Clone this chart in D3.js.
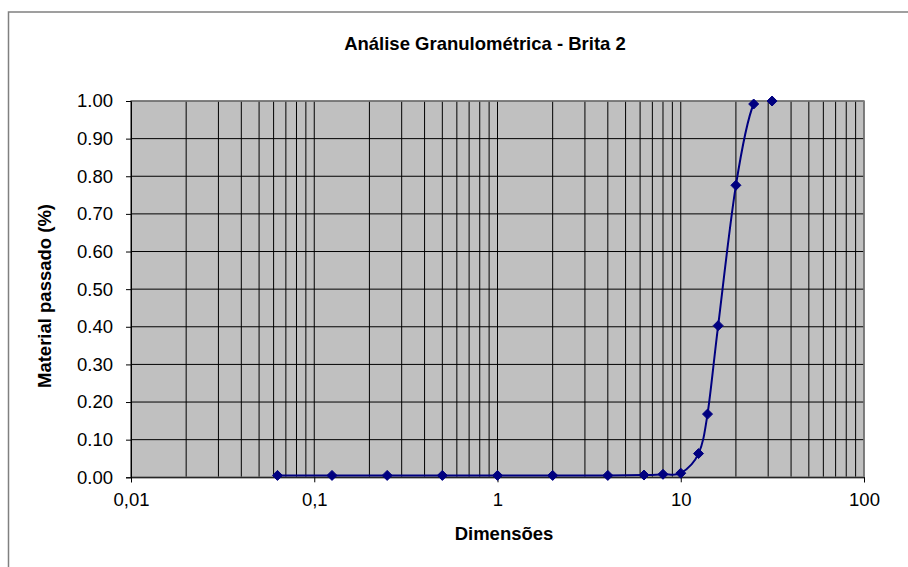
<!DOCTYPE html>
<html>
<head>
<meta charset="utf-8">
<script src="https://cdn.jsdelivr.net/npm/d3@7"></script>
<style>
  html, body { margin: 0; padding: 0; background: #fff; }
  svg { display: block; }
  text { font-family: Arial, "Liberation Sans", sans-serif; fill: #000; }
</style>
</head>
<body>
<script>
// ---- Data ----
const title = "Análise Granulométrica - Brita 2";
const xTitle = "Dimensões";
const yTitle = "Material passado (%)";
const sizes = [0.063, 0.125, 0.25, 0.5, 1, 2, 4, 6.3, 8, 10, 12.5, 14, 16, 20, 25, 31.5];
const passing = [0.005, 0.005, 0.005, 0.005, 0.005, 0.005, 0.005, 0.006, 0.008, 0.011, 0.063, 0.168, 0.403, 0.776, 0.992, 1.0];
const xTickValues = [0.01, 0.1, 1, 10, 100];
const xTickLabels = ["0,01", "0,1", "1", "10", "100"];
const yTickValues = [0, 0.1, 0.2, 0.3, 0.4, 0.5, 0.6, 0.7, 0.8, 0.9, 1.0];

const W = 908, H = 567;
const plot = { left: 131, right: 864, top: 101, bottom: 477.3 };

const svg = d3.select("body").append("svg").attr("width", W).attr("height", H);

// outer chart border (only top & left visible in frame)
svg.append("rect")
  .attr("x", 8.5).attr("y", 12).attr("width", 1200).attr("height", 800)
  .attr("fill", "none").attr("stroke", "#808080").attr("stroke-width", 1.5);

const x = d3.scaleLog().domain([0.01, 100]).range([plot.left, plot.right]);
const y = d3.scaleLinear().domain([0, 1]).range([plot.bottom, plot.top]);

// plot area
svg.append("rect")
  .attr("x", plot.left).attr("y", plot.top)
  .attr("width", plot.right - plot.left).attr("height", plot.bottom - plot.top)
  .attr("fill", "#C0C0C0");

// vertical gridlines (log minor + major)
const vGrid = [];
[0.01, 0.1, 1, 10].forEach(d => { for (let k = 1; k <= 9; k++) vGrid.push(k * d); });
vGrid.push(100);
svg.append("g").selectAll("line").data(vGrid).join("line")
  .attr("x1", d => x(d)).attr("x2", d => x(d))
  .attr("y1", plot.top).attr("y2", plot.bottom)
  .attr("stroke", "#000").attr("stroke-width", 1);

// horizontal gridlines
svg.append("g").selectAll("line").data(yTickValues).join("line")
  .attr("x1", plot.left).attr("x2", plot.right)
  .attr("y1", d => y(d)).attr("y2", d => y(d))
  .attr("stroke", "#000").attr("stroke-width", 1);

// plot border
svg.append("rect")
  .attr("x", plot.left).attr("y", plot.top)
  .attr("width", plot.right - plot.left).attr("height", plot.bottom - plot.top)
  .attr("fill", "none").attr("stroke", "#808080").attr("stroke-width", 1.5);

// Y axis
const yAxis = d3.axisLeft(y).tickValues(yTickValues).tickFormat(d3.format(".2f"))
  .tickSize(5).tickPadding(13);
const gy = svg.append("g").attr("transform", `translate(${plot.left},0)`).call(yAxis);
gy.select(".domain").attr("stroke", "#000").attr("stroke-width", 1);
gy.selectAll(".tick line").attr("stroke", "#000");
gy.selectAll("text").style("font-size", "18.5px").attr("fill", "#000");

// X axis
const xAxis = d3.axisBottom(x).tickValues(xTickValues)
  .tickFormat((d, i) => xTickLabels[i]).tickSize(5).tickPadding(11);
const gx = svg.append("g").attr("transform", `translate(0,${plot.bottom})`).call(xAxis);
gx.select(".domain").attr("stroke", "#000").attr("stroke-width", 1);
gx.selectAll(".tick line").attr("stroke", "#000");
gx.selectAll("text").style("font-size", "18.5px").attr("fill", "#000");

// clip for series line
svg.append("clipPath").attr("id", "plotclip").append("rect")
  .attr("x", plot.left).attr("y", plot.top)
  .attr("width", plot.right - plot.left).attr("height", plot.bottom - plot.top);

const pts = sizes.map((s, i) => [x(s), y(passing[i])]);
const line = d3.line().curve(d3.curveCardinal.tension(0));
svg.append("path")
  .attr("d", line(pts))
  .attr("clip-path", "url(#plotclip)")
  .attr("fill", "none").attr("stroke", "#000080").attr("stroke-width", 2);

// diamond markers
const r = 5;
svg.append("g").selectAll("path").data(pts).join("path")
  .attr("d", d => `M${d[0]},${d[1] - r}L${d[0] + r},${d[1]}L${d[0]},${d[1] + r}L${d[0] - r},${d[1]}Z`)
  .attr("fill", "#000080").attr("stroke", "#000080").attr("stroke-width", 1);

// titles
svg.append("text").attr("x", 485).attr("y", 49.5).attr("text-anchor", "middle")
  .style("font-size", "18.5px").style("font-weight", "bold").text(title);
svg.append("text").attr("x", 504).attr("y", 540).attr("text-anchor", "middle")
  .style("font-size", "18.5px").style("font-weight", "bold").text(xTitle);
svg.append("text").attr("transform", "translate(51,296) rotate(-90)").attr("text-anchor", "middle")
  .style("font-size", "18.5px").style("font-weight", "bold").text(yTitle);
</script>
</body>
</html>
